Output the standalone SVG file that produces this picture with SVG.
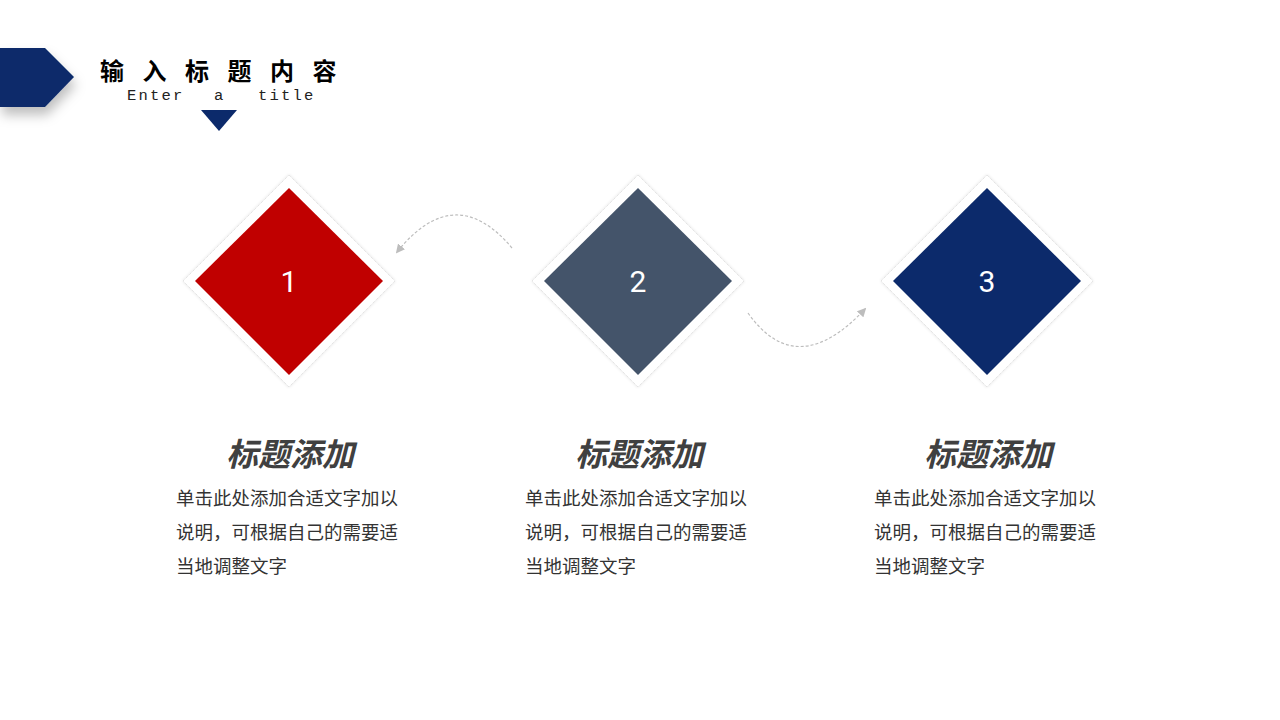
<svg xmlns="http://www.w3.org/2000/svg" width="1280" height="720" viewBox="0 0 1280 720">
<defs>
<style>
.title{font-family:"Noto Sans CJK SC","Noto Sans",sans-serif;font-weight:bold;font-size:24px;fill:#000;letter-spacing:18.5px}
.en{font-family:"Liberation Mono","DejaVu Sans Mono",monospace;font-size:15.5px;fill:#222;letter-spacing:2.2px}
.num{font-family:Roboto,"Liberation Sans",sans-serif;font-size:30px;fill:#fff;text-anchor:middle}
.head{font-family:"Noto Sans CJK SC",sans-serif;font-weight:bold;font-style:italic;font-size:32px;fill:#404040;text-anchor:middle}
.body{font-family:"Noto Sans CJK SC",sans-serif;font-size:18.5px;fill:#333}
.outer{fill:#fff;stroke:#dcdcdc;stroke-width:1;stroke-dasharray:1 1}
.conn{fill:none;stroke:#bdbdbd;stroke-width:1.2;stroke-dasharray:3 2}
</style>
<filter id="sh" x="-30%" y="-30%" width="180%" height="200%">
<feDropShadow dx="2" dy="8" stdDeviation="6" flood-color="#000" flood-opacity="0.25"/>
</filter>
<filter id="sh2" x="-20%" y="-20%" width="140%" height="140%">
<feDropShadow dx="0" dy="0" stdDeviation="1.5" flood-color="#000" flood-opacity="0.12"/>
</filter>
<marker id="arr" viewBox="0 0 10 10" refX="8" refY="5" markerWidth="9" markerHeight="9" markerUnits="userSpaceOnUse" orient="auto">
<path d="M0,0 L10,5 L0,10 Z" fill="#bdbdbd"/>
</marker>
</defs>
<rect width="1280" height="720" fill="#fff"/>
<g id="header">
<path d="M0,48 L45,48 L74,77 L45,107 L0,107 Z" fill="#0c2a6b" filter="url(#sh)"/>
<text class="title" x="100" y="80">输入标题内容</text>
<text class="en" x="127" y="100">Enter</text>
<text class="en" x="214" y="100">a</text>
<text class="en" x="258" y="100">title</text>
<path d="M201,110 L237,110 L219,131 Z" fill="#0c2a6b"/>
</g>
<g id="connectors">
<path class="conn" d="M512,248 Q455,180 397,252" marker-end="url(#arr)"/>
<path class="conn" d="M748,313 Q797,382 865,309" marker-end="url(#arr)"/>
</g>
<g id="node1">
<path class="outer" filter="url(#sh2)" d="M289,175 L395,281 L289,387 L183,281 Z"/>
<path d="M289,188 L383,281 L289,375 L195,281 Z" fill="#c00000"/>
<text class="num" x="289" y="292">1</text>
<text class="head" x="290" y="466">标题添加</text>
<text class="body" x="176" y="505">单击此处添加合适文字加以</text>
<text class="body" x="176" y="539">说明，可根据自己的需要适</text>
<text class="body" x="176" y="573">当地调整文字</text>
</g>
<g id="node2">
<path class="outer" filter="url(#sh2)" d="M638,175 L744,281 L638,387 L532,281 Z"/>
<path d="M638,188 L732,281 L638,375 L544,281 Z" fill="#44546a"/>
<text class="num" x="638" y="292">2</text>
<text class="head" x="639" y="466">标题添加</text>
<text class="body" x="525" y="505">单击此处添加合适文字加以</text>
<text class="body" x="525" y="539">说明，可根据自己的需要适</text>
<text class="body" x="525" y="573">当地调整文字</text>
</g>
<g id="node3">
<path class="outer" filter="url(#sh2)" d="M987,175 L1093,281 L987,387 L881,281 Z"/>
<path d="M987,188 L1081,281 L987,375 L893,281 Z" fill="#0c2a6b"/>
<text class="num" x="987" y="292">3</text>
<text class="head" x="988" y="466">标题添加</text>
<text class="body" x="874" y="505">单击此处添加合适文字加以</text>
<text class="body" x="874" y="539">说明，可根据自己的需要适</text>
<text class="body" x="874" y="573">当地调整文字</text>
</g>
</svg>
